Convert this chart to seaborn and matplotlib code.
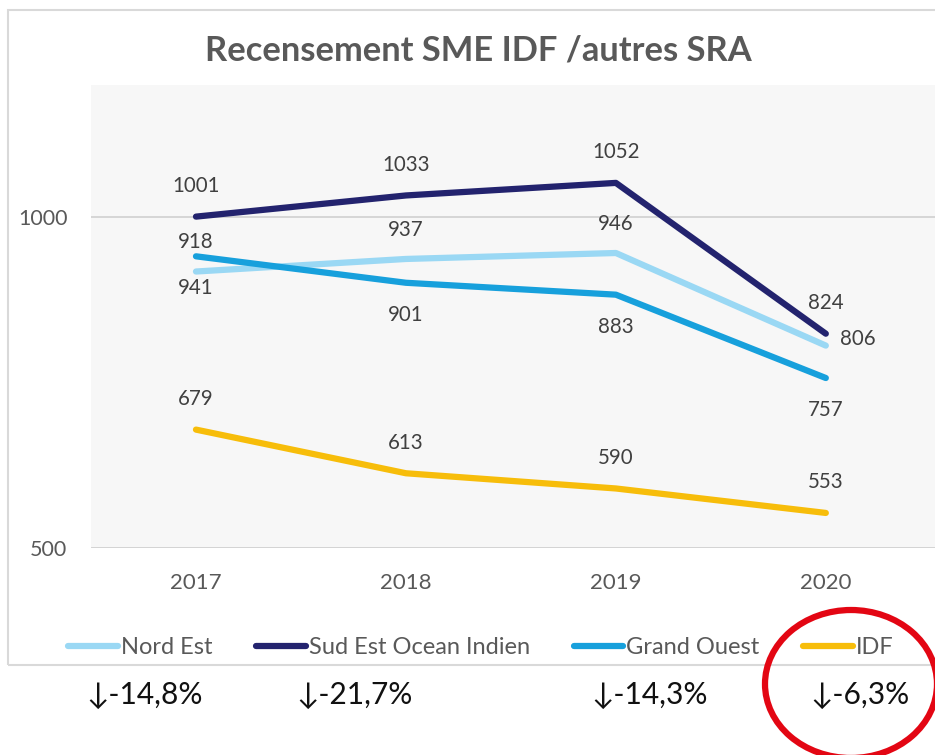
import matplotlib
matplotlib.use("Agg")
import matplotlib.pyplot as plt
from matplotlib.patches import Rectangle, Ellipse
import seaborn as sns
import pandas as pd

years = ["2017", "2018", "2019", "2020"]
series_names = ["Nord Est", "Sud Est Ocean Indien", "Grand Ouest", "IDF"]
nord_est = [918, 937, 946, 806]
sud_est = [1001, 1033, 1052, 824]
grand_ouest = [941, 901, 883, 757]
idf = [679, 613, 590, 553]
variations = ["↓-14,8%", "↓-21,7%", "↓-14,3%", "↓-6,3%"]
y_ticks = [500, 1000]

colors = {"Nord Est": "#9ad8f4", "Sud Est Ocean Indien": "#23236e",
          "Grand Ouest": "#17a0dc", "IDF": "#f7bd0a"}

sns.set_theme(style="white")
plt.rcParams['font.family'] = ['Lato', 'DejaVu Sans']

values = {"Nord Est": nord_est, "Sud Est Ocean Indien": sud_est,
          "Grand Ouest": grand_ouest, "IDF": idf}
rows = []
for s in series_names:
    for y, v in zip(years, values[s]):
        rows.append({"Année": y, "Valeur": v, "Série": s})
df = pd.DataFrame(rows)

fig = plt.figure(figsize=(9.35, 7.55), dpi=100)
ax = fig.add_axes([91/935, 1-548/755, 1-91/935, (548-85)/755])

# chart border
fig.patches.append(Rectangle((8/935, 1-665/755), 1.0, (665-10)/755, transform=fig.transFigure,
                             fill=False, edgecolor="#d9d9d9", linewidth=1.5, zorder=0))

ax.set_facecolor("#f7f7f7")
sns.lineplot(data=df, x="Année", y="Valeur", hue="Série", palette=colors,
             hue_order=series_names, linewidth=4.5, ax=ax, legend=True, sort=False)
for ln in ax.get_lines():
    ln.set_solid_capstyle("round")

ax.set_ylim(500, 1200)
ax.set_xlim(-0.5, 3.52)
ax.set_yticks(y_ticks)
ax.set_yticklabels([str(t) for t in y_ticks])
ax.axhline(1000, color="#d0d0d0", linewidth=1.2, zorder=0)
ax.axhline(500, color="#d0d0d0", linewidth=2, zorder=0)
for sp in ax.spines.values():
    sp.set_visible(False)
ax.tick_params(axis="y", length=0, pad=17, labelsize=15.5, labelcolor="#595959")
ax.tick_params(axis="x", length=0, pad=18, labelsize=16, labelcolor="#595959")
ax.set_xlabel("")
ax.set_ylabel("")

# data labels (points offset)
lab_kw = dict(fontsize=14.8, color="#404040", ha="center", va="center")
for i, v in enumerate(sud_est):
    ax.annotate(str(v), (i, v), xytext=(0, 22), textcoords="offset points", **lab_kw)
for i, v in enumerate(nord_est):
    if i == 3:
        ax.annotate(str(v), (i, v), xytext=(23, 5), textcoords="offset points", **lab_kw)
    else:
        ax.annotate(str(v), (i, v), xytext=(0, 21), textcoords="offset points", **lab_kw)
for i, v in enumerate(grand_ouest):
    ax.annotate(str(v), (i, v), xytext=(0, -23), textcoords="offset points", **lab_kw)
for i, v in enumerate(idf):
    ax.annotate(str(v), (i, v), xytext=(0, 22), textcoords="offset points", **lab_kw)

# title
fig.text(478/935, 1-50/755, "Recensement SME IDF /autres SRA", ha="center", va="center",
         fontsize=24.8, fontweight="bold", color="#595959")

# legend
handles, labels = ax.get_legend_handles_labels()
ax.get_legend().remove()
leg = fig.legend(handles, labels, loc="center", bbox_to_anchor=(481/935, 1-648/755),
                 ncol=4, frameon=False, fontsize=17, handlelength=2.1, handletextpad=0.13,
                 columnspacing=1.85, labelcolor="#595959")
for h in leg.legend_handles:
    h.set_linewidth(4.5)

# variations below
var_x = [145, 355, 650, 860]
for x, t in zip(var_x, variations):
    fig.text(x/935, 1-695/755, t, ha="center", va="center", fontsize=21.5, color="#111111",
             family=['Lato', 'DejaVu Sans'])

# red ellipse
fig.patches.append(Ellipse((851/935, 1-684/755), 172/935, 148/755, transform=fig.transFigure,
                           fill=False, edgecolor="#e30613", linewidth=4.5, zorder=5))

fig.savefig("out.png", dpi=100)
